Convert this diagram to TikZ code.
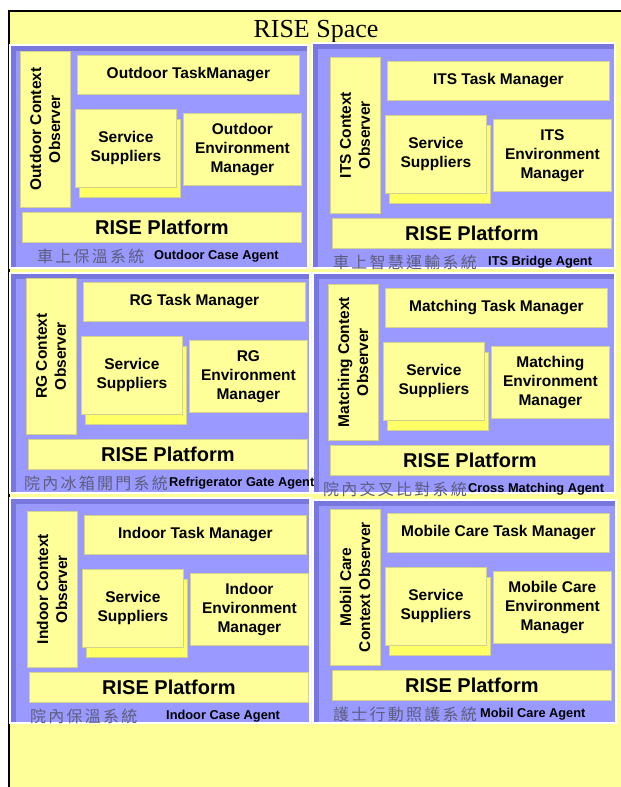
\documentclass[tikz,border=0pt]{standalone}
\usepackage{fontspec}
\setmainfont{Liberation Serif}
\setsansfont{Liberation Sans}
\newfontfamily\cjkfont[LetterSpace=14]{Noto Sans CJK TC}
\definecolor{bgyellow}{HTML}{FFFF99}
\definecolor{boxyellow}{HTML}{FFFF99}
\definecolor{backyellow}{HTML}{FFFF66}
\definecolor{boxedge}{HTML}{D2D28C}
\definecolor{lavender}{HTML}{9999FF}
\definecolor{lavdark}{HTML}{7777DD}
\definecolor{cngray}{HTML}{5E5E7E}
\tikzset{
  box/.style={fill=boxyellow, draw=boxedge, line width=0.8pt, inner sep=0pt, align=center,
    font={\fontsize{15.5}{19}\selectfont\sffamily\bfseries}},
  ssback/.style={fill=backyellow, draw=boxedge, line width=0.8pt, inner sep=0pt},
  platbox/.style={box, font={\fontsize{20}{22}\selectfont\sffamily\bfseries}},
  cnlabel/.style={inner sep=0pt, text=cngray, font={\fontsize{16}{16}\selectfont\cjkfont}},
  agentlabel/.style={inner sep=0pt, font={\fontsize{12.8}{14}\selectfont\sffamily\bfseries}},
  title/.style={inner sep=0pt, font={\fontsize{26}{26}\selectfont\rmfamily}}
}
\begin{document}
\begin{tikzpicture}[x=1pt, y=-1pt]
  \useasboundingbox (0,0) rectangle (621,787);
  % frame and title
  \fill[bgyellow] (9,11) rectangle (621,787);
  \draw[line width=2pt] (9,787) -- (9,11) -- (621,11);
  \node[title, anchor=base] (space) at (316,37) {RISE Space};

  % agent panels
  \foreach \a/\b/\c/\d in {10/45/308/268, 312/43/615/268, 10/273/310/493,
                           313/273/615/493, 10/498/310/723, 313/500/616/723}{
    \fill[lavdark, draw=white, line width=1.5pt] (\a,\b) rectangle (\c,\d);
    \fill[lavender] (\a+6,\b+6) rectangle (\c-1,\d-1);
  }

  % contents of each agent
  \foreach \n/\ox/\oy/\oa/\ob/\tk/\ev/\cn/\cx/\ag/\ax in {
      out/20/50/Outdoor Context/Observer/Outdoor TaskManager/Outdoor/車上保溫系統/17/Outdoor Case Agent/134,
      its/330/56/ITS Context/Observer/ITS Task Manager/ITS/車上智慧運輸系統/3/ITS Bridge Agent/158,
      rg/26/277/RG Context/Observer/RG Task Manager/RG/院內冰箱開門系統/-2/Refrigerator Gate Agent/143,
      mat/328/283/Matching Context/Observer/Matching Task Manager/Matching/院內交叉比對系統/-5/Cross Matching Agent/140,
      ind/27/510/Indoor Context/Observer/Indoor Task Manager/Indoor/院內保溫系統/3/Indoor Case Agent/139,
      mob/330/508/Mobil Care/Context Observer/Mobile Care Task Manager/Mobile Care/護士行動照護系統/3/Mobil Care Agent/150}{
    \begin{scope}[shift={(\ox,\oy)}]
      \node[box, rotate=90, minimum width=156, minimum height=50] (\n-obs) at (25,79) {\oa\\\ob};
      \node[box, anchor=north west, minimum width=222, minimum height=39] (\n-task) at (57,5) {\tk};
      \node[ssback, anchor=north west, minimum width=101, minimum height=78] (\n-ssb) at (59,69) {};
      \node[box, anchor=north west, minimum width=101, minimum height=78] (\n-ss) at (55,59) {Service\\Suppliers};
      \node[box, anchor=north west, minimum width=118, minimum height=72] (\n-env) at (163,63) {\ev\\Environment\\Manager};
      \node[platbox, anchor=north west, minimum width=279, minimum height=30] (\n-plat) at (2,162) {RISE Platform};
      \node[cnlabel, anchor=west] (\n-cn) at (\cx,206) {\cn};
      \node[agentlabel, anchor=west] (\n-ag) at (\ax,206) {\ag};
    \end{scope}
  }
\end{tikzpicture}
\end{document}
